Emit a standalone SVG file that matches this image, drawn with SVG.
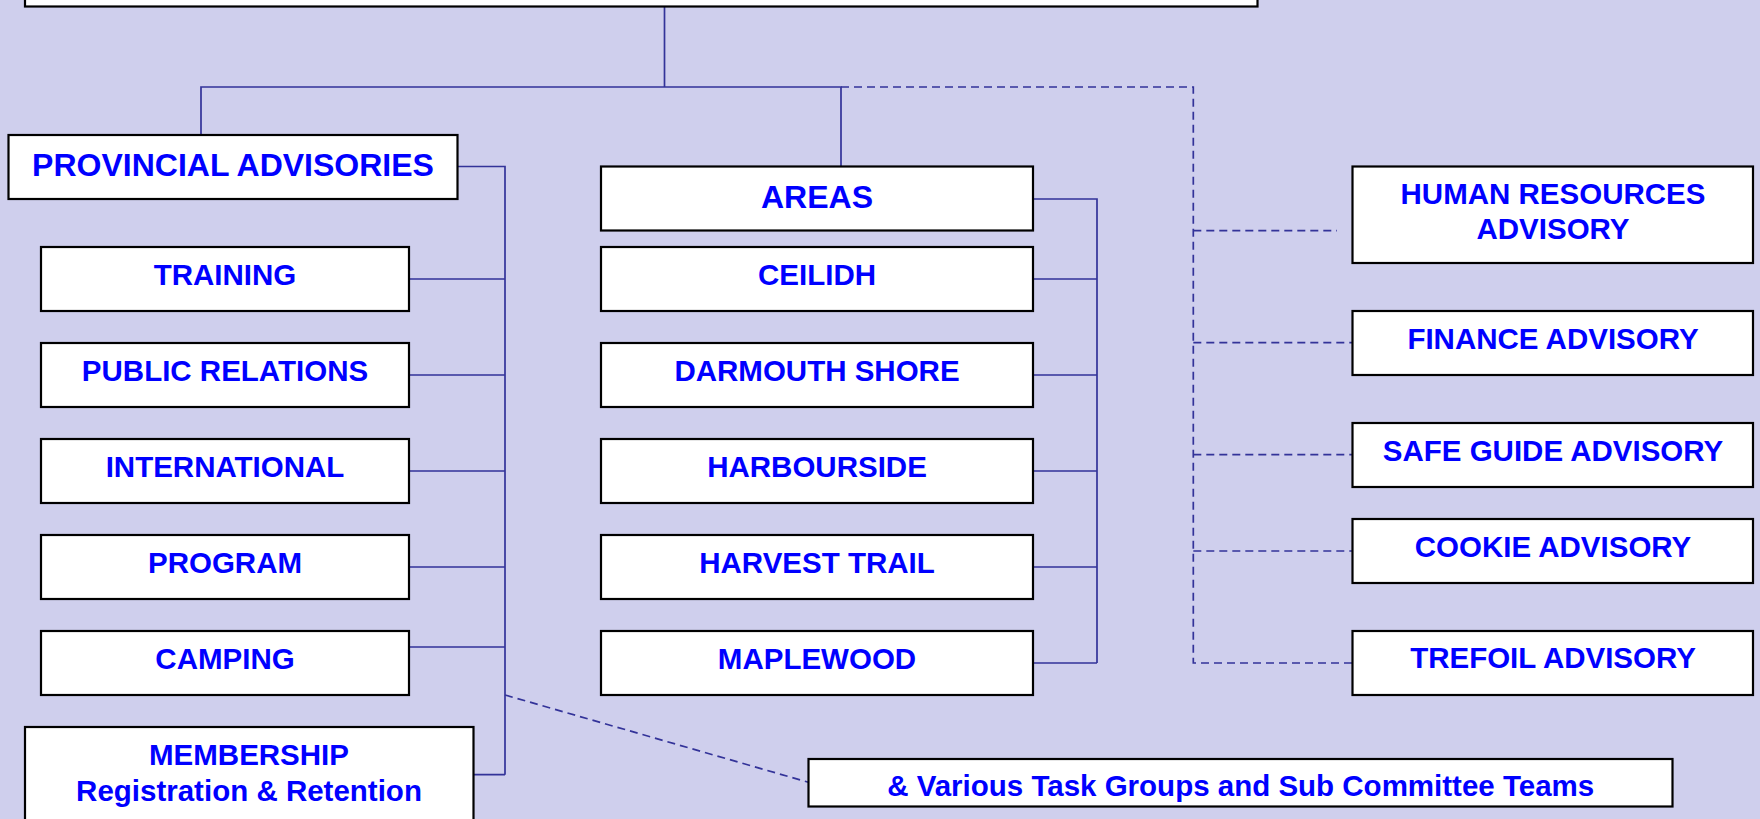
<svg xmlns="http://www.w3.org/2000/svg" width="1760" height="819" viewBox="0 0 1760 819">
<style>
.bg{fill:#CFCFED}
.box{fill:#FFFFFF;stroke:#000000;stroke-width:2.2}
.t{font-family:"Liberation Sans",Arial,sans-serif;font-weight:bold;font-size:29.5px;fill:#0000FF;text-anchor:middle}
.h{font-size:32px}
.ln{fill:none;stroke:#333399;stroke-width:1.7}
.dash{stroke-dasharray:8 5}
</style>
<rect class="bg" x="0" y="0" width="1760" height="819"/>
<g id="connectors">
<path class="ln" d="M664.5 7 V87 M201 135 V87 H841 V166.5"/>
<path class="ln" d="M457.5 166.5 H505 V774.7 M409 279 H505 M409 375 H505 M409 471 H505 M409 567 H505 M409 647 H505 M473.5 774.7 H505"/>
<path class="ln" d="M1033 199 H1097 V663 M1033 279 H1097 M1033 375 H1097 M1033 471 H1097 M1033 567 H1097 M1033 663 H1097"/>
<path class="ln dash" d="M841 87 H1193.3 V663 H1352.5"/>
<path class="ln dash" d="M1193.3 230.7 H1337 M1193.3 342.7 H1352.5 M1193.3 454.7 H1352.5 M1193.3 551 H1352.5"/>
<path class="ln dash" d="M505 695 L808.5 782.3"/>
</g>
<g id="top"><rect class="box" x="25" y="-20" width="1232.5" height="26.5"/></g>
<g id="provincial"><rect class="box" x="8.5" y="135" width="449" height="64"/><text class="t h" x="233" y="175.7">PROVINCIAL ADVISORIES</text></g>
<g id="training"><rect class="box" x="41" y="247" width="368" height="64"/><text class="t" x="225" y="285">TRAINING</text></g>
<g id="public-relations"><rect class="box" x="41" y="343" width="368" height="64"/><text class="t" x="225" y="381">PUBLIC RELATIONS</text></g>
<g id="international"><rect class="box" x="41" y="439" width="368" height="64"/><text class="t" x="225" y="477">INTERNATIONAL</text></g>
<g id="program"><rect class="box" x="41" y="535" width="368" height="64"/><text class="t" x="225" y="573">PROGRAM</text></g>
<g id="camping"><rect class="box" x="41" y="631" width="368" height="64"/><text class="t" x="225" y="669">CAMPING</text></g>
<g id="membership"><rect class="box" x="25" y="727" width="448.5" height="110"/><text class="t" x="249" y="765">MEMBERSHIP</text><text class="t" x="249" y="800.7">Registration &amp; Retention</text></g>
<g id="areas"><rect class="box" x="601" y="166.5" width="432" height="64"/><text class="t h" x="817" y="208.3">AREAS</text></g>
<g id="ceilidh"><rect class="box" x="601" y="247" width="432" height="64"/><text class="t" x="817" y="285">CEILIDH</text></g>
<g id="darmouth-shore"><rect class="box" x="601" y="343" width="432" height="64"/><text class="t" x="817" y="381">DARMOUTH SHORE</text></g>
<g id="harbourside"><rect class="box" x="601" y="439" width="432" height="64"/><text class="t" x="817" y="477">HARBOURSIDE</text></g>
<g id="harvest-trail"><rect class="box" x="601" y="535" width="432" height="64"/><text class="t" x="817" y="573">HARVEST TRAIL</text></g>
<g id="maplewood"><rect class="box" x="601" y="631" width="432" height="64"/><text class="t" x="817" y="669">MAPLEWOOD</text></g>
<g id="human-resources"><rect class="box" x="1352.5" y="166.5" width="400.5" height="96.5"/><text class="t" x="1553" y="204">HUMAN RESOURCES</text><text class="t" x="1553" y="239">ADVISORY</text></g>
<g id="finance"><rect class="box" x="1352.5" y="311" width="400.5" height="64"/><text class="t" x="1553" y="349">FINANCE ADVISORY</text></g>
<g id="safe-guide"><rect class="box" x="1352.5" y="423" width="400.5" height="64"/><text class="t" x="1553" y="460.7">SAFE GUIDE ADVISORY</text></g>
<g id="cookie"><rect class="box" x="1352.5" y="519" width="400.5" height="64"/><text class="t" x="1553" y="556.5">COOKIE ADVISORY</text></g>
<g id="trefoil"><rect class="box" x="1352.5" y="631" width="400.5" height="64"/><text class="t" x="1553" y="668">TREFOIL ADVISORY</text></g>
<g id="task-groups"><rect class="box" x="808.5" y="759" width="864" height="47.5"/><text class="t" x="1240.7" y="795.7">&amp; Various Task Groups and Sub Committee Teams</text></g>
</svg>
